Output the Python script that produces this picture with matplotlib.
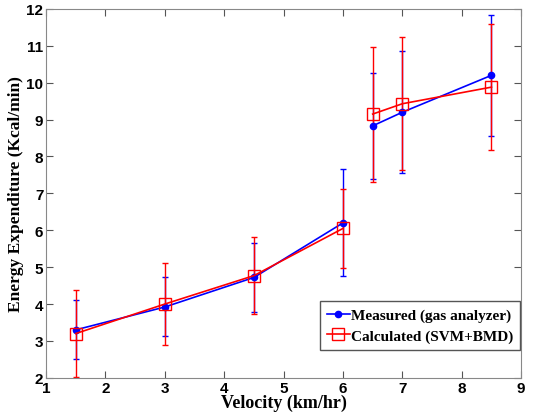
import numpy as np
import matplotlib.pyplot as plt

# Geschwindigkeiten und Energieumsatz
velocity = [1.5, 3, 4.5, 6, 6.5, 7, 8.5]
measured = [3.3, 3.92, 4.72, 6.2, 8.83, 9.2, 10.2]
measured_err = [0.8, 0.8, 0.93, 1.45, 1.44, 1.65, 1.64]
calculated = [3.2, 4.0, 4.77, 6.05, 9.15, 9.43, 9.88]
calculated_err = [1.17, 1.12, 1.05, 1.08, 1.83, 1.8, 1.7]
split = 4   # Linie zwischen 6 und 6.5 km/h unterbrochen

fig = plt.figure(figsize=(5.55, 4.14), dpi=100)
ax = fig.add_axes([0.083, 0.085, 0.856, 0.891])

# Fehlerbalken
ax.errorbar(velocity, measured, yerr=measured_err, fmt='none', ecolor='blue',
            capsize=2.5, elinewidth=1.0)
ax.errorbar(velocity, calculated, yerr=calculated_err, fmt='none', ecolor='red',
            capsize=2.5, elinewidth=1.0)

# Linien in zwei Abschnitten
for sl in (slice(0, split), slice(split, None)):
    ax.plot(velocity[sl], measured[sl], color='blue', marker='o', markersize=4.5,
            linewidth=1.2)
    ax.plot(velocity[sl], calculated[sl], color='red', marker='s', markersize=8,
            markerfacecolor='none', markeredgewidth=1.0, linewidth=1.2)

h1, = ax.plot([], [], color='blue', marker='o', markersize=4.5, linewidth=1.2)
h2, = ax.plot([], [], color='red', marker='s', markersize=8,
              markerfacecolor='none', linewidth=1.2)

ax.set_xlim(1, 9)
ax.set_ylim(2, 12)
ax.set_xticks(range(1, 10))
ax.set_yticks(range(2, 13))
ax.tick_params(direction='in', top=True, right=True, length=5, color='#555555',
               pad=2)
for lbl in ax.get_xticklabels() + ax.get_yticklabels():
    lbl.set_fontfamily('Liberation Sans')
    lbl.set_fontweight('bold')
    lbl.set_fontsize(11)
for sp in ax.spines.values():
    sp.set_color('#888888')

ax.set_xlabel('Velocity (km/hr)', family='Liberation Serif', fontweight='bold',
              fontsize=13, labelpad=-1)
ax.set_ylabel('Energy Expenditure (Kcal/min)', family='Liberation Serif',
              fontweight='bold', fontsize=12.5, labelpad=2)

leg = ax.legend([h1, h2], ['Measured (gas analyzer)', 'Calculated (SVM+BMD)'],
                loc='lower right', bbox_to_anchor=(0.998, 0.076),
                borderaxespad=0,
                prop={'family': 'Liberation Serif', 'weight': 'bold', 'size': 11},
                handlelength=1.5, handletextpad=0.1, borderpad=0.45,
                labelspacing=0.45, fancybox=False, framealpha=1,
                edgecolor='#555555')

fig.savefig('out.png', dpi=100)
